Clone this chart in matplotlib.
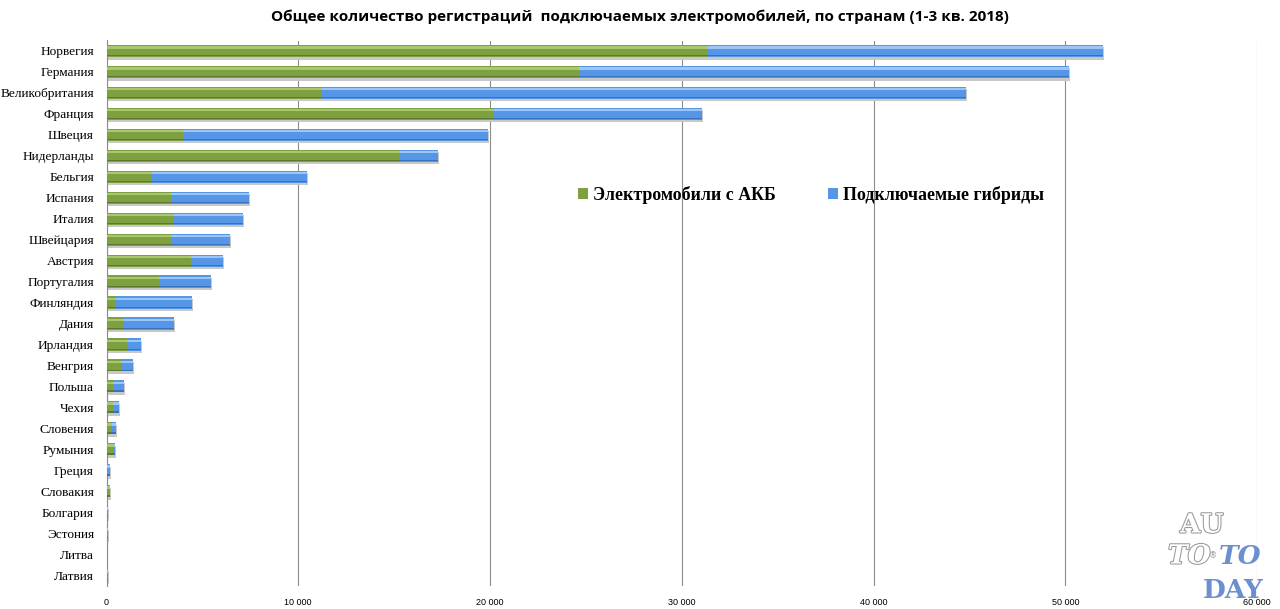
import numpy as np
import matplotlib
matplotlib.use('Agg')
import matplotlib.pyplot as plt
import matplotlib.patheffects as pe

countries = ['Норвегия', 'Германия', 'Великобритания', 'Франция', 'Швеция',
             'Нидерланды', 'Бельгия', 'Испания', 'Италия', 'Швейцария',
             'Австрия', 'Португалия', 'Финляндия', 'Дания', 'Ирландия',
             'Венгрия', 'Польша', 'Чехия', 'Словения', 'Румыния',
             'Греция', 'Словакия', 'Болгария', 'Эстония', 'Литва', 'Латвия']
bev = [31370, 24650, 11240, 20210, 3990, 15310, 2370, 3360, 3520, 3420,
       4410, 2740, 500, 860, 1070, 760, 340, 340, 290, 390,
       30, 150, 40, 50, 30, 30]
phev = [20610, 25560, 33590, 10850, 15910, 1980, 8090, 4070, 3600, 3020,
        1670, 2710, 3960, 2660, 730, 620, 570, 310, 210, 30,
        170, 20, 40, 30, 10, 30]

green = '#7fa040'
blue = '#5597e6'

fig = plt.figure(figsize=(12.8, 6.09), dpi=100)
ax = fig.add_axes([106.5 / 1280, (609 - 585.5) / 609, (1257 - 106.5) / 1280, (585.5 - 40.5) / 609])

y = np.arange(len(countries))
h = 0.58
ax.barh(y, bev, height=h, color=green, zorder=3, label='Электромобили с АКБ')
ax.barh(y, phev, left=bev, height=h, color=blue, zorder=3, label='Подключаемые гибриды')
# shadow under bars
tot = np.array(bev) + np.array(phev)
ax.barh(y + 0.12, tot, height=h, left=np.zeros(len(y)) + 60, color='#c8c8c8', zorder=2)
# light / dark bands to mimic the bevel look
ax.barh(y - h * 0.3, bev, height=h * 0.2, color='#a8c870', zorder=4)
ax.barh(y - h * 0.3, phev, left=bev, height=h * 0.2, color='#9cc6f5', zorder=4)
ax.barh(y + h * 0.39, bev, height=h * 0.1, color='#5c7a2a', zorder=4)
ax.barh(y + h * 0.39, phev, left=bev, height=h * 0.1, color='#3573c0', zorder=4)

ax.set_xlim(0, 60000)
ax.set_ylim(len(countries) - 0.5, -0.5)
ax.set_yticks(y)
ax.set_yticklabels(countries, fontfamily='Liberation Serif', fontsize=9.6)
xt = np.arange(0, 60001, 10000)
ax.set_xticks(xt)
ax.set_xticklabels([f'{v:,}'.replace(',', ' ') for v in xt], fontsize=6.5,
                   fontfamily='Liberation Sans')
ax.tick_params(length=0, pad=9)
ax.tick_params(axis='x', pad=9)
ax.grid(axis='x', color='#8c8c8c', linewidth=0.8, zorder=0)
for s in ['top', 'right', 'bottom']:
    ax.spines[s].set_visible(False)
ax.spines['left'].set_color('#8c8c8c')

fig.text(0.5, 1 - 17 / 609,
         'Общее количество регистраций  подключаемых электромобилей, по странам (1-3 кв. 2018)',
         ha='center', va='center', fontsize=11, fontweight='bold', fontfamily='Open Sans')

leg = ax.legend(loc='center left', bbox_to_anchor=((562 - 106.5) / 1150.5, (585.5 - 195) / 545),
                ncol=2, frameon=False,
                prop={'family': 'Liberation Serif', 'weight': 'bold', 'size': 12.9},
                handlelength=0.55, handleheight=0.55, handletextpad=0.3, columnspacing=2.9)

# watermark
wm = dict(fontfamily='DejaVu Serif', fontweight='bold', fontsize=19)
fig.text(1180 / 1280, 1 - 525 / 609, 'AU', color='white', va='center',
         path_effects=[pe.withStroke(linewidth=1.5, foreground='#9a9a9a')], **wm)
fig.text(1168 / 1280, 1 - 556 / 609, 'TO', color='white', va='center', style='italic',
         path_effects=[pe.withStroke(linewidth=1.5, foreground='#9a9a9a')], **wm)
fig.text(1209 / 1280, 1 - 556 / 609, '®', color='#9a9a9a', va='center', fontsize=6)
fig.text(1219 / 1280, 1 - 556 / 609, 'TO', color='#6b8fcf', va='center', style='italic', **wm)
fig.text(1203 / 1280, 1 - 590 / 609, 'DAY', color='#6b8fcf', va='center', **wm)

fig.savefig('out.png', dpi=100)
